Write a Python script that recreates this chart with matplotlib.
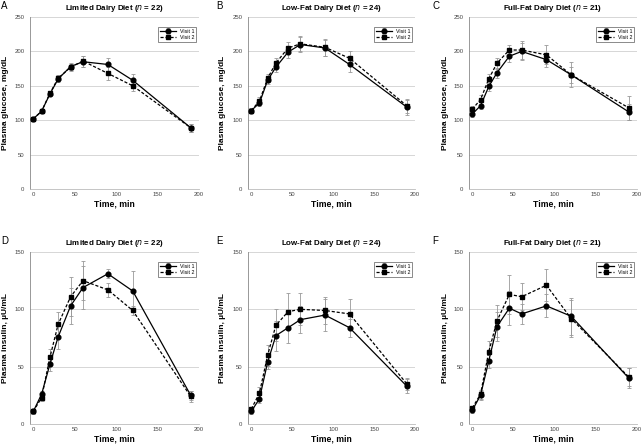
import matplotlib
matplotlib.use("Agg")
import matplotlib.pyplot as plt

plt.rcParams['font.family'] = ['Liberation Sans', 'DejaVu Sans']

# time points (min)
time = [0, 10, 20, 30, 45, 60, 90, 120, 190]

# glucose, mg/dL
glu_lim_v1 = [102, 113, 138, 160, 178, 185, 181, 158, 89]
glu_lim_v2 = [102, 113, 139, 161, 177, 186, 168, 150, 89]
glu_lim_e1 = [2, 2, 3, 4, 5, 8, 9, 9, 6]
glu_lim_e2 = [2, 2, 3, 4, 5, 8, 9, 7, 6]

glu_low_v1 = [114, 125, 158, 177, 199, 210, 205, 181, 119]
glu_low_v2 = [114, 128, 161, 183, 205, 211, 206, 190, 121]
glu_low_e1 = [4, 5, 6, 7, 8, 11, 12, 11, 11]
glu_low_e2 = [4, 5, 6, 7, 8, 11, 12, 11, 10]

glu_full_v1 = [109, 121, 149, 169, 193, 200, 188, 166, 112]
glu_full_v2 = [116, 130, 160, 183, 202, 202, 195, 166, 118]
glu_full_e1 = [4, 5, 6, 7, 8, 12, 10, 12, 12]
glu_full_e2 = [5, 6, 7, 8, 8, 13, 14, 18, 17]

# insulin, uU/mL
ins_lim_v1 = [11, 26, 52, 76, 103, 119, 131, 116, 25]
ins_lim_v2 = [11, 23, 58, 87, 111, 125, 117, 99, 24]
ins_lim_e1 = [2, 3, 6, 11, 16, 19, 4, 17, 4]
ins_lim_e2 = [2, 3, 7, 11, 17, 17, 6, 4, 5]

ins_low_v1 = [11, 22, 54, 77, 84, 91, 95, 84, 33]
ins_low_v2 = [13, 27, 60, 86, 98, 100, 99, 96, 35]
ins_low_e1 = [2, 4, 6, 13, 13, 12, 14, 8, 6]
ins_low_e2 = [2, 5, 9, 14, 16, 14, 12, 13, 5]

ins_full_v1 = [12, 25, 55, 85, 101, 96, 103, 94, 40]
ins_full_v2 = [14, 26, 63, 90, 113, 111, 121, 92, 41]
ins_full_e1 = [2, 4, 6, 13, 15, 9, 10, 16, 9]
ins_full_e2 = [2, 4, 9, 14, 17, 12, 14, 16, 8]

titles = ["Limited Dairy Diet ($\\mathit{n}$ = 22)",
          "Low-Fat Dairy Diet ($\\mathit{n}$ = 24)",
          "Full-Fat Dairy Diet ($\\mathit{n}$ = 21)"]
letters = ["A", "B", "C", "D", "E", "F"]

panels = [
    (glu_lim_v1, glu_lim_e1, glu_lim_v2, glu_lim_e2),
    (glu_low_v1, glu_low_e1, glu_low_v2, glu_low_e2),
    (glu_full_v1, glu_full_e1, glu_full_v2, glu_full_e2),
    (ins_lim_v1, ins_lim_e1, ins_lim_v2, ins_lim_e2),
    (ins_low_v1, ins_low_e1, ins_low_v2, ins_low_e2),
    (ins_full_v1, ins_full_e1, ins_full_v2, ins_full_e2),
]

W, H = 644, 446
fig = plt.figure(figsize=(W / 100, H / 100), dpi=100)

col_lr = [(30, 199), (248, 415), (469, 637)]
row_tb = [(17, 189), (252, 424)]
ylabel_x = [6, 223, 445]
letter_x = [1, 216, 432]

for i, (v1, e1, v2, e2) in enumerate(panels):
    r, c = divmod(i, 3)
    l, rr = col_lr[c]
    t, b = row_tb[r]
    ax = fig.add_axes([l / W, 1 - b / H, (rr - l) / W, (b - t) / H])

    ax.errorbar(time, v1, yerr=e1, color='black', lw=0.9, marker='o', ms=3.4,
                ecolor='#999999', elinewidth=0.6, capsize=1.2, capthick=0.6,
                label='Visit 1', zorder=3)
    ax.errorbar(time, v2, yerr=e2, color='black', lw=0.9, ls=(0, (2.5, 1.5)),
                marker='s', ms=3.4, ecolor='#999999', elinewidth=0.6,
                capsize=1.2, capthick=0.6, label='Visit 2', zorder=3)

    ax.set_xlim(-4, 200)
    ax.set_xticks([0, 50, 100, 150, 200])
    if r == 0:
        ax.set_ylim(0, 250)
        ax.set_yticks([0, 50, 100, 150, 200, 250])
        ylab = "Plasma glucose, mg/dL"
    else:
        ax.set_ylim(0, 150)
        ax.set_yticks([0, 50, 100, 150])
        ylab = "Plasma insulin, µU/mL"

    ax.grid(axis='y', color='#d0d0d0', lw=0.6)
    ax.set_axisbelow(True)
    for s in ['top', 'right']:
        ax.spines[s].set_visible(False)
    ax.spines['left'].set_color('#888888')
    ax.spines['bottom'].set_color('#bbbbbb')
    ax.spines['left'].set_linewidth(0.6)
    ax.spines['bottom'].set_linewidth(0.6)
    ax.tick_params(axis='y', length=0, labelsize=4.3, labelcolor='#444444', pad=4)
    ax.tick_params(axis='x', length=0, labelsize=4.3, labelcolor='#444444', pad=2)

    ax.set_xlabel("Time, min", fontsize=6.2, fontweight='bold', labelpad=2)
    fig.text(ylabel_x[c] / W, 1 - ((t + b) / 2) / H, ylab, rotation=90,
             fontsize=6, fontweight='bold', ha='center', va='center')
    ax.set_title(titles[c], fontsize=5.7, fontweight='bold', pad=5)
    fig.text(letter_x[c] / W, 1 - (t - 11) / H, letters[i], fontsize=7,
             ha='left', va='center')

    leg = ax.legend(loc='upper right', fontsize=3.8, frameon=True, fancybox=False,
                    handlelength=3, borderpad=0.4, labelspacing=0.2,
                    bbox_to_anchor=(1.0, 0.96))
    leg.get_frame().set_edgecolor('#555555')
    leg.get_frame().set_linewidth(0.6)

fig.savefig("out.png", dpi=100)
